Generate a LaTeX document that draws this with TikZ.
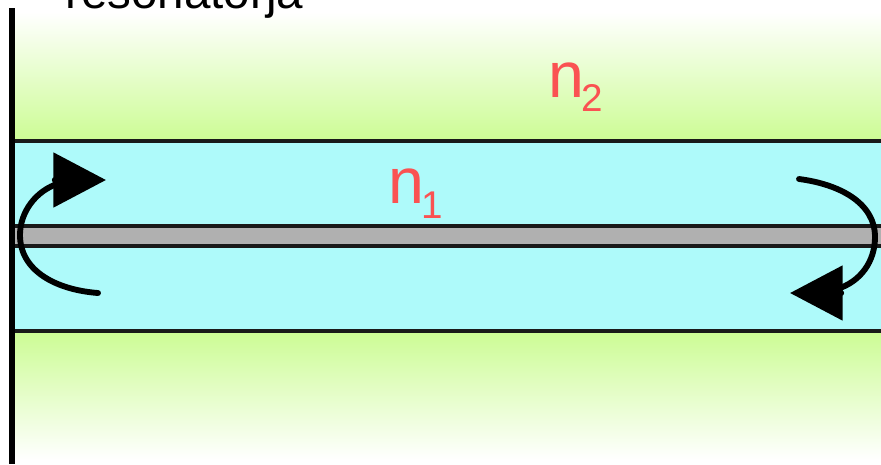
\documentclass[tikz,border=0pt]{standalone}
\usepackage{fontspec}
\setmainfont{Liberation Sans}
\usepackage{xcolor}
\usetikzlibrary{arrows.meta,positioning,calc}
\definecolor{cladgreen}{RGB}{204,252,148}
\definecolor{corecyan}{RGB}{174,250,250}
\definecolor{fibregray}{RGB}{176,176,176}
\definecolor{labelred}{RGB}{250,82,82}

\begin{document}
\begin{tikzpicture}[
  x=0.03cm,y=-0.03cm,
  idx/.style={font=\fontsize{55pt}{55pt}\selectfont,text=labelred,inner sep=0pt,anchor=base west},
  subidx/.style={font=\fontsize{33pt}{33pt}\selectfont,text=labelred,inner sep=0pt,anchor=base west},
  wall/.style={line width=4.4pt,black},
  rim/.style={line width=3pt,black!90},
  bounce/.style={line width=5pt,black,-{Triangle[length=45pt,width=46pt]},line cap=round}
]
  \useasboundingbox (0,0) rectangle (881,464);
  \begin{scope}
  \clip (0,0) rectangle (881,464);
  % cladding
  \shade[top color=white,bottom color=cladgreen] (12,12) rectangle (881,141);
  \shade[top color=cladgreen,bottom color=white] (12,331) rectangle (881,460);
  % core and fibre
  \fill[corecyan] (12,141) rectangle (881,331);
  \fill[fibregray] (12,226) rectangle (881,246);
  \draw[rim] (12,141) -- (881,141);
  \draw[rim] (12,331) -- (881,331);
  \draw[rim] (12,226) -- (881,226);
  \draw[rim] (12,246) -- (881,246);
  \draw[wall] (12,8) -- (12,464);

  \node[font=\fontsize{40.6pt}{40.6pt}\selectfont,anchor=base west,inner sep=0pt] (title) at (65,8) {resonatorja};
  \node[idx] (ntwo) at (548,97) {n};
  \node[subidx] (ntwosub) at (581,111) {2};
  \node[idx] (none) at (388,203) {n};
  \node[subidx] (nonesub) at (421,218) {1};

  \coordinate (lfoot) at (98,293);
  \coordinate (lback) at (20,235);
  \coordinate (lneck) at (61,180);
  \coordinate (ltip) at (106,180);
  \coordinate (rfoot) at (799,179);
  \coordinate (rback) at (875,237);
  \coordinate (rneck) at (836,293);
  \coordinate (rtip) at (790,293);
  \draw[bounce] (lfoot) .. controls (58,290) and (20,272) .. (lback) .. controls (20,212) and (36,190) .. (60,183) -- (lneck) -- (ltip);
  \draw[bounce] (rfoot) .. controls (838,184) and (875,202) .. (rback) .. controls (875,262) and (860,282) .. (837,289) -- (rneck) -- (rtip);
  \end{scope}
\end{tikzpicture}
\end{document}
